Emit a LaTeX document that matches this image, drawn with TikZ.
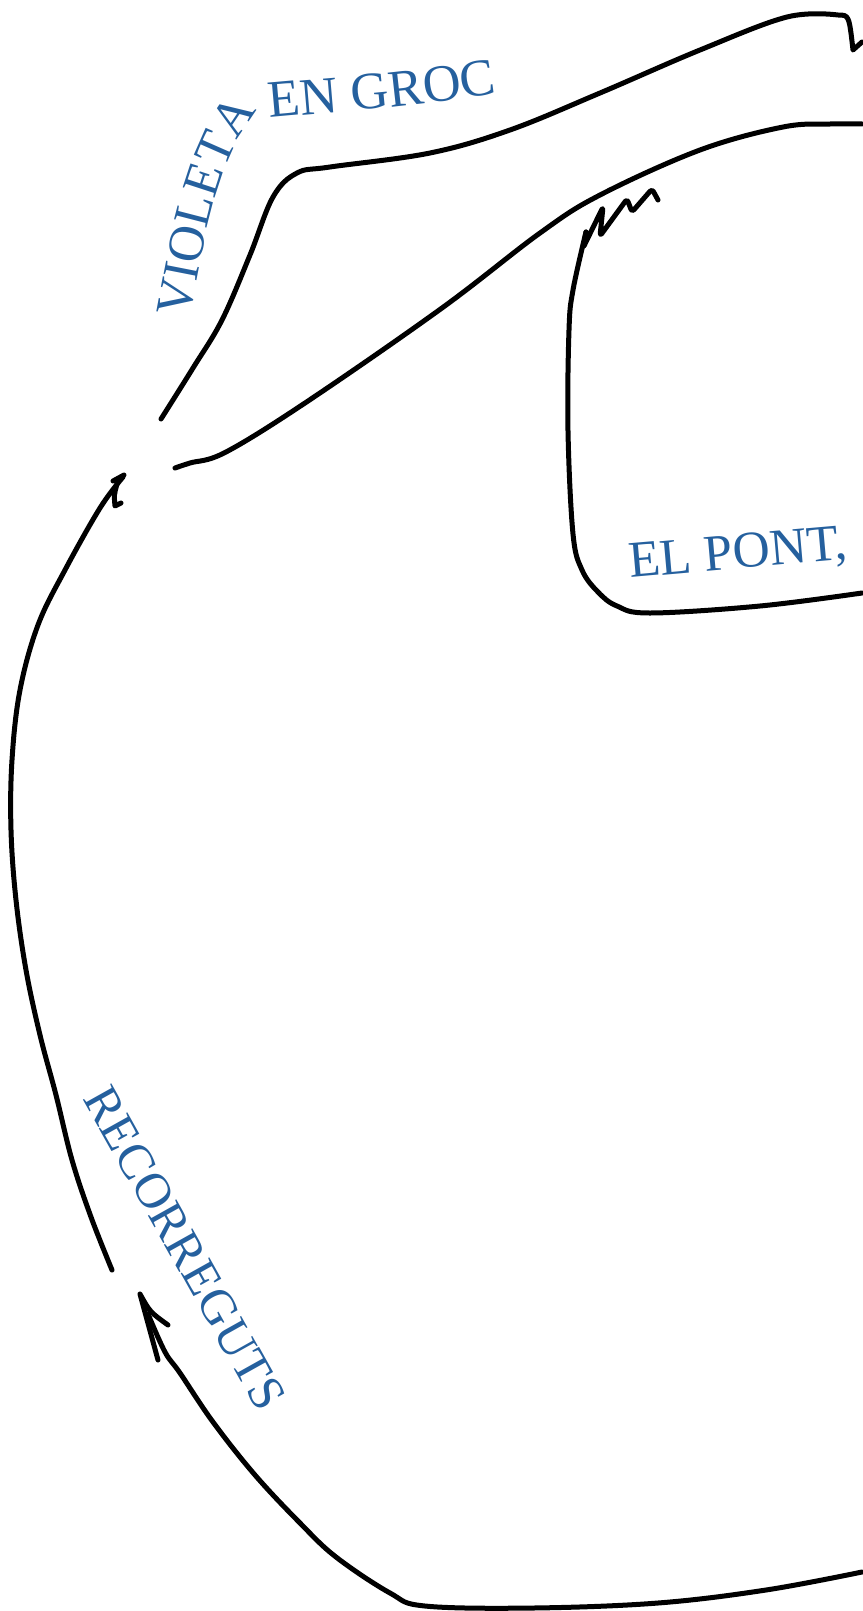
\documentclass[tikz,border=0pt]{standalone}
\usepackage{fontspec}
\newfontfamily\lblfont{Liberation Serif}
\usepackage{xcolor}
\usetikzlibrary{decorations.text}
\definecolor{vblue}{RGB}{37,96,158}

\begin{document}
\begin{tikzpicture}[x=1pt, y=-1pt,
  pen/.style={line width=5pt, line cap=round, line join=round},
  lbl/.style={text=vblue, inner sep=0pt, font=\lblfont\fontsize{#1}{#1}\selectfont},
  arctext/.style={decorate, decoration={text along path, text color=vblue, text align=#1}}]
\useasboundingbox (0,0) rectangle (862,1611);
\draw[pen] plot[smooth, tension=0.6] coordinates {(161,419) (193,368) (222,320) (250,255) (273,197) (297,173) (330,167) (430,153) (510,130) (600,93) (700,50) (787,17) (838,15)}
  .. controls (849,15) .. (853,50) -- (862,42);
\draw[pen] plot[smooth, tension=0.6] coordinates {(175,468) (190,463) (226,452) (308,401) (442,308) (540,233) (600,195) (700,150) (783,127) (830,124) (862,124)};
\draw[pen] plot[smooth, tension=0.6] coordinates {(862,593) (760,606) (650,613) (617,606) (598,592) (582,570) (573,534) (568,431) (569,330) (573,290) (586,232)};
\draw[pen, rounded corners=3pt] (586,232) -- (583,248) -- (603,207) -- (600,236) -- (627,199) -- (632,212) -- (652,189) -- (658,200);
\draw[pen] plot[smooth, tension=0.6] coordinates {(112,1270) (91,1217) (72,1160) (56,1095) (40,1035) (26,970) (16,900) (11,830) (12,760) (20,690) (38,625) (65,570) (100,508) (123,477)};
\draw[pen] (113,481) -- (124,475);
\draw[pen] (117,484) .. controls (114,495) .. (115,506) -- (121,503);
\draw[pen] plot[smooth, tension=0.6] coordinates {(148,1314) (165,1352) (180,1373) (213,1422) (255,1475) (300,1523) (336,1557) (390,1593) (425,1606) (533,1608) (658,1603) (766,1590) (862,1572)};
\draw[pen] (158,1360) -- (140,1294) .. controls (150,1312) .. (168,1325);
\node[lbl=51.5, anchor=base west, rotate=5] (elpont) at (630,578) {EL PONT,};
\node[lbl=50, rotate=-60.8] (recorr) at (185,1248) {RECORREGUTS};
\path[arctext=right, decoration={text={|\lblfont\fontsize{51}{51}\selectfont|VIOLETA}}]
  (188,325) .. controls (204,240) and (218,155) .. (258,111);
\path[arctext=left, decoration={text={|\lblfont\fontsize{52.5}{52.5}\selectfont|EN GROC}}]
  (270,118) .. controls (330,112) and (420,108) .. (545,85);
\end{tikzpicture}
\end{document}
